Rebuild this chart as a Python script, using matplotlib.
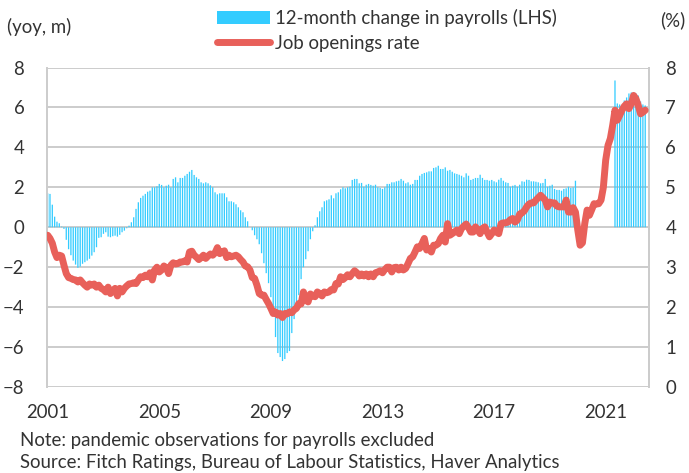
import numpy as np
import pandas as pd
import matplotlib
matplotlib.use("Agg")
import matplotlib.pyplot as plt
import matplotlib.patches as mpatches
from matplotlib.lines import Line2D

plt.rcParams['font.family'] = ['Lato', 'DejaVu Sans']

# Monthly, Jan 2001 .. Jun 2022
months = pd.date_range("2001-01-01", "2022-06-01", freq="MS")
tick_years = ["2001", "2005", "2009", "2013", "2017", "2021"]

# 12-month change in payrolls (millions); None = pandemic months excluded
payrolls = [
    1.70, 1.67, 1.13, 0.53, 0.28, 0.20, 0.03, -0.08, -0.63, -1.10, -1.40, -1.67,
    -1.87, -2.03, -1.97, -1.83, -1.75, -1.67, -1.58, -1.42, -1.25, -1.00, -0.53, -0.50,
    -0.33, -0.25, -0.47, -0.50, -0.45, -0.42, -0.47, -0.38, -0.25, -0.17, -0.05, 0.08,
    0.25, 0.50, 0.92, 1.25, 1.47, 1.58, 1.67, 1.78, 1.83, 2.00, 2.00, 2.05,
    2.17, 2.12, 2.00, 2.08, 2.13, 2.00, 2.42, 2.50, 2.25, 2.47, 2.47, 2.58,
    2.67, 2.78, 2.87, 2.62, 2.50, 2.42, 2.25, 2.20, 2.25, 2.20, 2.10, 2.00,
    1.75, 1.65, 1.70, 1.70, 1.70, 1.50, 1.30, 1.30, 1.25, 1.15, 1.00, 0.85,
    0.75, 0.50, 0.30, 0.00, -0.15, -0.40, -0.60, -0.85, -1.30, -1.80, -2.30, -2.80,
    -3.50, -4.30, -5.50, -6.30, -6.50, -6.70, -6.60, -6.30, -6.20, -5.30, -4.60, -3.90,
    -3.40, -2.60, -2.00, -1.60, -1.20, -0.60, -0.20, 0.10, 0.50, 0.80, 1.00, 1.30,
    1.35, 1.40, 1.60, 1.45, 1.70, 1.75, 1.90, 2.00, 1.95, 2.00, 2.03, 2.37,
    2.42, 2.42, 2.20, 2.22, 2.03, 2.13, 2.17, 2.12, 2.08, 2.13, 2.00, 1.97,
    1.92, 2.00, 2.17, 2.17, 2.25, 2.25, 2.30, 2.33, 2.42, 2.33, 2.20, 2.25,
    2.13, 2.17, 2.37, 2.37, 2.58, 2.67, 2.72, 2.75, 2.80, 2.80, 2.97, 3.00,
    3.08, 2.92, 2.92, 3.00, 2.83, 2.87, 2.78, 2.70, 2.67, 2.63, 2.58, 2.50,
    2.70, 2.58, 2.37, 2.42, 2.47, 2.47, 2.63, 2.47, 2.37, 2.37, 2.33, 2.37,
    2.30, 2.25, 2.38, 2.47, 2.33, 2.25, 2.22, 2.03, 2.08, 2.12, 2.03, 2.13,
    2.30, 2.28, 2.38, 2.37, 2.30, 2.30, 2.28, 2.25, 2.20, 2.22, 2.42, 2.03,
    2.08, 2.13, 1.92, 1.87, 1.87, 1.83, 1.92, 1.95, 2.03, 1.97, 2.00, 2.33,
    None, None, None, None, None, None, None, None, None, None, None, None,
    None, None, None, None, 7.35, 6.20, 6.15, 6.10, 6.35, 6.50, 6.70, 6.75,
    6.75, 6.70, 6.60, 6.30, 6.15, 6.10,
]

# Job openings rate (%)
openings = [
    3.80, 3.72, 3.60, 3.38, 3.24, 3.30, 3.28, 3.05, 2.84, 2.74, 2.72, 2.69,
    2.68, 2.63, 2.68, 2.61, 2.55, 2.50, 2.58, 2.55, 2.58, 2.50, 2.55, 2.47,
    2.44, 2.38, 2.50, 2.34, 2.41, 2.47, 2.28, 2.47, 2.38, 2.47, 2.53, 2.58,
    2.59, 2.61, 2.59, 2.68, 2.76, 2.74, 2.80, 2.76, 2.86, 2.68, 2.93, 3.00,
    2.88, 2.93, 3.03, 2.99, 2.84, 3.05, 3.11, 3.08, 3.09, 3.13, 3.13, 3.16,
    3.13, 3.38, 3.40, 3.30, 3.25, 3.19, 3.24, 3.30, 3.22, 3.28, 3.33, 3.30,
    3.36, 3.49, 3.34, 3.38, 3.41, 3.24, 3.30, 3.26, 3.28, 3.30, 3.26, 3.19,
    3.13, 3.03, 3.01, 2.93, 2.74, 2.72, 2.55, 2.34, 2.30, 2.30, 2.19, 2.09,
    1.97, 1.84, 1.88, 1.80, 1.84, 1.74, 1.84, 1.83, 1.88, 1.86, 1.93, 1.97,
    2.09, 2.08, 2.38, 2.18, 2.13, 2.33, 2.28, 2.26, 2.38, 2.34, 2.28, 2.38,
    2.36, 2.38, 2.44, 2.43, 2.59, 2.58, 2.76, 2.69, 2.74, 2.81, 2.76, 2.84,
    2.91, 2.86, 2.78, 2.83, 2.78, 2.83, 2.76, 2.83, 2.76, 2.86, 2.88, 2.91,
    2.86, 2.94, 3.00, 3.00, 2.88, 2.99, 3.00, 2.93, 3.00, 2.93, 2.97, 3.09,
    3.22, 3.26, 3.38, 3.51, 3.47, 3.59, 3.72, 3.43, 3.47, 3.38, 3.55, 3.55,
    3.59, 3.72, 3.80, 3.63, 4.09, 3.80, 3.84, 3.88, 3.93, 3.84, 3.97, 4.03,
    4.08, 3.99, 3.88, 3.88, 4.01, 3.93, 3.84, 3.97, 4.01, 3.88, 3.76, 3.84,
    3.93, 3.88, 3.84, 4.09, 4.11, 4.11, 4.13, 4.19, 4.22, 4.13, 4.18, 4.33,
    4.36, 4.41, 4.51, 4.58, 4.61, 4.61, 4.68, 4.74, 4.80, 4.74, 4.68, 4.51,
    4.63, 4.61, 4.61, 4.53, 4.51, 4.51, 4.51, 4.68, 4.38, 4.38, 4.49, 4.38,
    3.93, 3.55, 3.61, 4.09, 4.43, 4.30, 4.44, 4.59, 4.58, 4.59, 4.68, 5.00,
    5.68, 6.05, 6.22, 6.55, 6.93, 6.68, 6.80, 6.93, 7.03, 7.09, 6.97, 7.09,
    7.30, 7.22, 7.05, 6.84, 6.88, 6.93,
]

BAR_COLOR = "#33ccff"
LINE_COLOR = "#e8605a"
GRID_COLOR = "#cccccc"
TEXT_COLOR = "#333333"
FS = 13.4

x = np.arange(len(months))
pay = np.array([np.nan if v is None else v for v in payrolls], dtype=float)

fig = plt.figure(figsize=(6.89, 4.73), dpi=100)
ax = fig.add_axes([46.5 / 689, 1 - 387 / 473, (648.7 - 46.5) / 689, (387 - 67.5) / 473])
bars = ax.bar(x, pay, width=0.55, color=BAR_COLOR, linewidth=0, zorder=2)
for b in bars:
    b.set_snap(False)
ax.set_ylim(-8, 8)
ax.set_yticks(np.arange(-8, 9, 2))
ax.set_xlim(-0.5, len(months) + 0.5)
tick_pos = [list(months.year.astype(str)).index(y) for y in tick_years]
ax.set_xticks(tick_pos)
ax.set_xticklabels(tick_years)
ax.grid(axis="y", color=GRID_COLOR, linewidth=1.4, zorder=0)
ax.set_axisbelow(True)
for s in ["top", "bottom"]:
    ax.spines[s].set_visible(False)
for s in ["left", "right"]:
    ax.spines[s].set_color(GRID_COLOR)
    ax.spines[s].set_linewidth(1.4)
ax.tick_params(axis="both", length=0, labelsize=FS, colors=TEXT_COLOR)
ax.tick_params(axis="y", pad=16)
ax.tick_params(axis="x", pad=12)

ax2 = ax.twinx()
ax2.plot(x, openings, color=LINE_COLOR, linewidth=5,
         solid_capstyle="round", solid_joinstyle="round", zorder=3)
ax2.set_ylim(0, 8)
ax2.set_yticks(np.arange(0, 9, 1))
for s in ["top", "bottom", "left"]:
    ax2.spines[s].set_visible(False)
ax2.spines["right"].set_color(GRID_COLOR)
ax2.spines["right"].set_linewidth(1.4)
ax2.tick_params(axis="y", length=0, labelsize=FS, colors=TEXT_COLOR, pad=12)

handles = [
    mpatches.Patch(color=BAR_COLOR, linewidth=0),
    Line2D([0], [0], color=LINE_COLOR, linewidth=5, solid_capstyle="round"),
]
labels = ["12-month change in payrolls (LHS)", "Job openings rate"]
fig.legend(handles, labels, loc="upper left", bbox_to_anchor=(217 / 689, 1 - 9 / 473),
           frameon=False, fontsize=FS, handlelength=2.85, handletextpad=0.28,
           labelspacing=0.4, borderpad=0, borderaxespad=0, labelcolor=TEXT_COLOR)

fig.text(7 / 689, 1 - 27 / 473, "(yoy, m)", fontsize=FS, color=TEXT_COLOR, va="center")
fig.text(685 / 689, 1 - 20 / 473, "(%)", fontsize=FS, color=TEXT_COLOR, va="center", ha="right")
fig.text(20 / 689, 1 - 440 / 473, "Note: pandemic observations for payrolls excluded",
         fontsize=FS, color=TEXT_COLOR, va="center")
fig.text(20 / 689, 1 - 462 / 473,
         "Source: Fitch Ratings, Bureau of Labour Statistics, Haver Analytics",
         fontsize=FS, color=TEXT_COLOR, va="center")

fig.savefig("out.png", dpi=100)
